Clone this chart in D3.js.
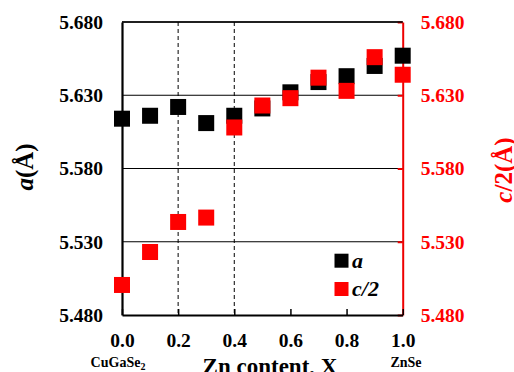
<!DOCTYPE html>
<html>
<head>
<meta charset="UTF-8">
<title>Lattice parameters vs Zn content</title>
<script src="https://d3js.org/d3.v7.min.js"></script>
<style>
  body { margin: 0; background: #fff; }
</style>
</head>
<body>
<svg id="chart" width="514" height="372"></svg>
<script>
// Zn content X
var zn = [0.0, 0.1, 0.2, 0.3, 0.4, 0.5, 0.6, 0.7, 0.8, 0.9, 1.0];
// lattice parameter a (Å)
var aVals = [5.614, 5.616, 5.622, 5.611, 5.616, 5.621, 5.632, 5.639, 5.643, 5.650, 5.657];
// c/2 (Å)
var cVals = [5.5005, 5.523, 5.5435, 5.5465, 5.608, 5.623, 5.628, 5.642, 5.633, 5.656, 5.644];

var xTicks = [0, 0.2, 0.4, 0.6, 0.8, 1.0];
var yTicks = [5.48, 5.53, 5.58, 5.63, 5.68];
var dashedAt = [0.2, 0.4];

var svg = d3.select("#chart");
var pL = 122, pR = 402.7, pT = 22, pB = 315;
var serif = "'Liberation Serif', 'Times New Roman', serif";

var x = d3.scaleLinear().domain([0, 1]).range([pL, pR]);
var y = d3.scaleLinear().domain([5.48, 5.68]).range([pB, pT]);
var fmt = d3.format(".3f");

// horizontal grid lines
svg.append("g").selectAll("line")
  .data(yTicks.slice(1))
  .enter().append("line")
  .attr("x1", pL).attr("x2", pR)
  .attr("y1", function(d) { return y(d); })
  .attr("y2", function(d) { return y(d); })
  .attr("stroke", "#000").attr("stroke-width", 1.2);

// dashed verticals
svg.append("g").selectAll("line")
  .data(dashedAt)
  .enter().append("line")
  .attr("x1", function(d) { return x(d); })
  .attr("x2", function(d) { return x(d); })
  .attr("y1", pT).attr("y2", pB)
  .attr("stroke", "#000").attr("stroke-width", 1)
  .attr("stroke-dasharray", "4,3");

// left axis
var gl = svg.append("g")
  .attr("transform", "translate(" + pL + ",0)")
  .call(d3.axisLeft(y).tickValues(yTicks).tickFormat(fmt).tickSize(0).tickPadding(19));
gl.select(".domain").attr("stroke", "#000").attr("stroke-width", 2.2);
gl.selectAll("text").attr("fill", "#000");

// right axis (red)
var gr = svg.append("g")
  .attr("transform", "translate(" + pR + ",0)")
  .call(d3.axisRight(y).tickValues(yTicks).tickFormat(fmt).tickSizeInner(-5).tickSizeOuter(0).tickPadding(18));
gr.select(".domain").attr("stroke", "#e00").attr("stroke-width", 2);
gr.selectAll(".tick line").attr("stroke", "#e00").attr("stroke-width", 2);
gr.selectAll("text").attr("fill", "#f00");

// bottom axis
var gb = svg.append("g")
  .attr("transform", "translate(0," + pB + ")")
  .call(d3.axisBottom(x).tickValues(xTicks).tickFormat(d3.format(".1f")).tickSizeInner(-6).tickSizeOuter(0).tickPadding(18));
gb.select(".domain").attr("stroke", "#000").attr("stroke-width", 2.2);
gb.selectAll(".tick line").attr("stroke", "#000").attr("stroke-width", 1.5);
gb.selectAll("text").attr("fill", "#000");

[gl, gr, gb].forEach(function(g) {
  g.selectAll("text").style("font-family", serif).style("font-weight", "bold").style("font-size", "19.5px");
});

// top frame line
svg.append("line")
  .attr("x1", pL).attr("x2", pR).attr("y1", pT).attr("y2", pT)
  .attr("stroke", "#000").attr("stroke-width", 1.5);

// markers
var ms = 16;
svg.append("g").selectAll("rect")
  .data(zn)
  .enter().append("rect")
  .attr("x", function(d) { return x(d) - ms / 2; })
  .attr("y", function(d, i) { return y(aVals[i]) - ms / 2; })
  .attr("width", ms).attr("height", ms)
  .attr("fill", "#000");

svg.append("g").selectAll("rect")
  .data(zn)
  .enter().append("rect")
  .attr("x", function(d) { return x(d) - ms / 2; })
  .attr("y", function(d, i) { return y(cVals[i]) - ms / 2; })
  .attr("width", ms).attr("height", ms)
  .attr("fill", "#f00");

// legend
var legend = [{name: "a", color: "#000", y: 260.7}, {name: "c/2", color: "#f00", y: 289}];
legend.forEach(function(l) {
  svg.append("rect").attr("x", 334.5).attr("y", l.y - 7).attr("width", 14).attr("height", 14).attr("fill", l.color);
  svg.append("text").attr("x", 352).attr("y", l.y + 7)
    .attr("font-size", 22).attr("font-style", "italic").text(l.name);
});

// axis titles
var yl = svg.append("text")
  .attr("transform", "translate(33,167) rotate(-90)")
  .attr("text-anchor", "middle").attr("font-size", 25);
yl.append("tspan").attr("font-style", "italic").text("a");
yl.append("tspan").text("(Å)");

var yr = svg.append("text")
  .attr("transform", "translate(512,170) rotate(-90)")
  .attr("text-anchor", "middle").attr("font-size", 25).attr("fill", "#f00");
yr.append("tspan").attr("font-style", "italic").text("c");
yr.append("tspan").text("/2(Å)");

svg.append("text")
  .attr("x", 270).attr("y", 374)
  .attr("text-anchor", "middle").attr("font-size", 23)
  .text("Zn content, X");

var cgs = svg.append("text")
  .attr("x", 118).attr("y", 366.5)
  .attr("text-anchor", "middle").attr("font-size", 14);
cgs.append("tspan").text("CuGaSe");
cgs.append("tspan").attr("font-size", 10).attr("dy", 3).text("2");

svg.append("text")
  .attr("x", 406).attr("y", 366.5)
  .attr("text-anchor", "middle").attr("font-size", 14)
  .text("ZnSe");

// serif bold for all free texts
svg.selectAll("svg > text").style("font-family", serif).style("font-weight", "bold");
</script>
</body>
</html>
